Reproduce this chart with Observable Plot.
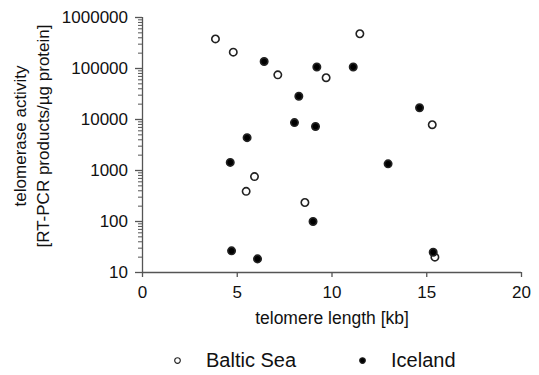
<!DOCTYPE html>
<html>
<head>
<meta charset="utf-8">
<script src="https://cdn.jsdelivr.net/npm/d3@7"></script>
<script src="https://cdn.jsdelivr.net/npm/@observablehq/plot@0.6"></script>
<style>
  html, body { margin: 0; padding: 0; background: #fff; }
  #chart { width: 539px; }
  .lg-swatches { margin: 4px 0 0 169.5px !important; font-size: 20px !important; font-family: "Liberation Sans", Arial, sans-serif !important; color: #111 !important; min-height: 33px; }
  .lg-swatch { margin-right: 58.5px !important; }
  .lg-swatch > svg { margin-right: 21.5px !important; }
</style>
</head>
<body>
<div id="chart"></div>
<script>
// Baltic Sea (open circles)
const balticLength = [3.85, 4.79, 7.14, 9.69, 11.47, 15.29, 5.91, 5.47, 8.57, 15.43];
const balticActivity = [380000, 209000, 75000, 66000, 480000, 7900, 760, 390, 236, 20];
// Iceland (filled circles)
const icelandLength = [6.42, 9.2, 8.25, 8.02, 9.13, 5.52, 11.12, 14.62, 4.63, 9.0, 4.7, 6.07, 12.96, 15.34];
const icelandActivity = [137000, 107000, 28600, 8700, 7300, 4400, 107000, 17000, 1440, 100, 26.6, 18.5, 1350, 25];

const groups = ["Baltic Sea", "Iceland"];
const xTicks = [0, 5, 10, 15, 20];
const yTicks = [10, 100, 1000, 10000, 100000, 1000000];
const yMinorTicks = yTicks.slice(0, -1).flatMap(d => [2, 3, 4, 5, 6, 7, 8, 9].map(k => k * d));
const xLabel = "telomere length [kb]";
const yLabel = "telomerase activity\n[RT-PCR products/µg protein]";

const data = [
  ...balticLength.map((x, i) => ({group: groups[0], x, y: balticActivity[i]})),
  ...icelandLength.map((x, i) => ({group: groups[1], x, y: icelandActivity[i]}))
];

const axisColor = "#555";
const chart = Plot.plot({
  width: 539,
  height: 340,
  marginLeft: 142,
  marginRight: 18,
  marginTop: 17,
  marginBottom: 68,
  style: {fontSize: "17px", fontFamily: "'Liberation Sans', Arial, sans-serif", color: "#111", background: "#fff"},
  x: {type: "linear", domain: [0, 20]},
  y: {type: "log", domain: [10, 1000000]},
  color: {domain: groups, range: ["white", "black"]},
  symbol: {domain: groups, range: ["circle", "circle"]},
  marks: [
    Plot.ruleX([0], {stroke: axisColor, strokeWidth: 1.3}),
    Plot.ruleY([10], {stroke: axisColor, strokeWidth: 1.3}),
    Plot.axisX({ticks: xTicks, tickSize: 5, tickPadding: 8, stroke: axisColor, strokeWidth: 1.3, label: null, tickFormat: d3.format("d"), fill: "#111"}),
    Plot.axisY({ticks: yTicks, tickSize: 7, tickPadding: 7.5, stroke: axisColor, strokeWidth: 1.3, label: null, tickFormat: d3.format("d"), fill: "#111"}),
    Plot.axisY({ticks: yMinorTicks, tickSize: 4, stroke: axisColor, strokeWidth: 1, text: null, label: null}),
    Plot.text([xLabel], {text: d => d, frameAnchor: "bottom", lineAnchor: "middle", dy: 46, fontSize: 17.5, fill: "#111"}),
    Plot.text([yLabel], {text: d => d, frameAnchor: "left", textAnchor: "middle", lineAnchor: "middle", rotate: -90, dx: -112.5, dy: -9, lineHeight: 1.35, fontSize: 17, fill: "#111"}),
    Plot.dot(data, {x: "x", y: "y", fill: "group", symbol: "group", stroke: "#222", strokeWidth: 1.6, r: 3.7})
  ]
});

const el = document.getElementById("chart");
el.appendChild(chart);
const legend = chart.legend("symbol", {className: "lg", r: 3, strokeWidth: 1.2, swatchSize: 15});
if (legend) el.appendChild(legend);
</script>
</body>
</html>
